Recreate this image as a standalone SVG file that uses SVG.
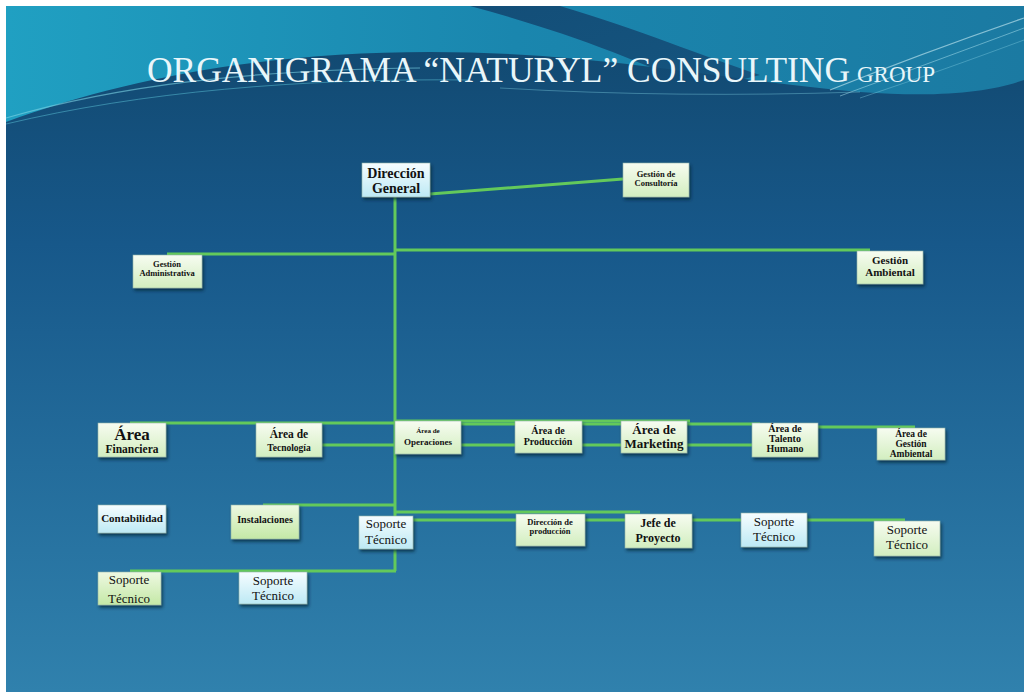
<svg xmlns="http://www.w3.org/2000/svg" width="1029" height="694" viewBox="0 0 1029 694">
<defs>
<linearGradient id="bgTop" x1="0" y1="0" x2="1" y2="0">
<stop offset="0" stop-color="#20a0c2"/>
<stop offset="0.5" stop-color="#1a86ae"/>
<stop offset="1" stop-color="#1b7aa2"/>
</linearGradient>
<linearGradient id="bgMain" x1="0" y1="0" x2="0" y2="1">
<stop offset="0" stop-color="#124a72"/>
<stop offset="0.3" stop-color="#17588a"/>
<stop offset="1" stop-color="#3081ad"/>
</linearGradient>
<linearGradient id="swoosh" x1="0" y1="0" x2="1" y2="1">
<stop offset="0" stop-color="#134e78"/>
<stop offset="1" stop-color="#15557f"/>
</linearGradient>
<linearGradient id="gCyan" x1="0" y1="0" x2="0" y2="1">
<stop offset="0" stop-color="#f6fdff"/>
<stop offset="1" stop-color="#bde9f4"/>
</linearGradient>
<linearGradient id="gGreen" x1="0" y1="0" x2="0" y2="1">
<stop offset="0" stop-color="#f7fcf1"/>
<stop offset="1" stop-color="#d2eebf"/>
</linearGradient>
<linearGradient id="gGreen2" x1="0" y1="0" x2="0" y2="1">
<stop offset="0" stop-color="#eef9e2"/>
<stop offset="1" stop-color="#c4e8a6"/>
</linearGradient>
<filter id="sh" x="-20%" y="-20%" width="150%" height="160%">
<feDropShadow dx="1.5" dy="2.5" stdDeviation="1.5" flood-color="#062034" flood-opacity="0.7"/>
</filter>
<style>
.box{stroke:#8fb3a8;stroke-width:0.6;filter:url(#sh)}
.c{fill:url(#gCyan)}
.g{fill:url(#gGreen)}
.g2{fill:url(#gGreen2)}
.t{font-weight:bold;fill:#111;text-anchor:middle}
.r{fill:#111;text-anchor:middle}
.ln{stroke:#63c95b;stroke-width:3;fill:none}
.title{fill:#e9f6fa}
</style>
</defs>

<!-- background -->
<rect x="0" y="0" width="1029" height="694" fill="#ffffff"/>
<rect x="6" y="6" width="1018" height="686" fill="url(#bgTop)"/>
<path d="M470,6 L560,6 C640,30 700,55 760,75 L700,90 C640,60 560,30 470,6 Z" fill="url(#swoosh)"/>
<path d="M6,122 C120,80 260,52 430,52 C600,52 720,80 860,92 C940,98 990,92 1024,80 L1024,692 L6,692 Z" fill="url(#bgMain)"/>
<path d="M6,118 C120,85 250,70 420,68" stroke="#7fd6e6" stroke-width="1.2" fill="none" opacity="0.6"/>
<path d="M6,124 C140,92 300,78 470,80" stroke="#5cc3d8" stroke-width="1" fill="none" opacity="0.5"/>
<path d="M1024,18 C960,40 900,62 830,90" stroke="#cdeef5" stroke-width="1.2" fill="none" opacity="0.6"/>
<path d="M1024,28 C965,50 905,72 840,96" stroke="#aee4ef" stroke-width="1" fill="none" opacity="0.5"/>
<path d="M1024,40 C970,60 920,78 860,98" stroke="#8fd8e8" stroke-width="0.8" fill="none" opacity="0.45"/>
<path d="M500,88 C620,95 740,96 860,92" stroke="#7fd0e0" stroke-width="1" fill="none" opacity="0.4"/>

<g font-family="'Liberation Serif', 'DejaVu Serif', serif">
<!-- title -->
<text class="title" x="147" y="82" font-size="36" textLength="703" lengthAdjust="spacingAndGlyphs">ORGANIGRAMA “NATURYL” CONSULTING</text>
<text class="title" x="857" y="82" font-size="23" textLength="78" lengthAdjust="spacingAndGlyphs">GROUP</text>

<!-- connectors -->
<g id="connectors">
<line class="ln" x1="430" y1="194" x2="623" y2="179"/>
<line class="ln" x1="395" y1="197" x2="395" y2="571"/>
<line class="ln" x1="395" y1="250" x2="870" y2="250"/>
<line class="ln" x1="167" y1="254" x2="395" y2="254"/>
<line class="ln" x1="130" y1="423" x2="395" y2="423"/>
<line class="ln" x1="395" y1="421" x2="690" y2="421"/>
<line class="ln" x1="461" y1="424" x2="760" y2="424"/>
<line class="ln" x1="818" y1="427" x2="915" y2="427"/>
<line class="ln" x1="322" y1="445" x2="752" y2="445"/>
<line class="ln" x1="263" y1="505" x2="395" y2="505"/>
<line class="ln" x1="395" y1="512" x2="640" y2="512"/>
<line class="ln" x1="413" y1="520" x2="905" y2="520"/>
<line class="ln" x1="130" y1="571" x2="396" y2="571"/>
</g>

<!-- nodes -->
<g id="n-direccion-general">
<rect class="box c" x="362" y="163" width="68" height="34"/>
<text class="t" x="396" y="178" font-size="14">Dirección</text>
<text class="t" x="396" y="193" font-size="14">General</text>
</g>
<g id="n-gestion-consultoria">
<rect class="box g" x="623" y="163" width="66" height="34"/>
<text class="t" x="656" y="177" font-size="8.5">Gestión de</text>
<text class="t" x="656" y="186" font-size="8.5">Consultoría</text>
</g>
<g id="n-gestion-administrativa">
<rect class="box g" x="133" y="255" width="69" height="33"/>
<text class="t" x="167" y="267" font-size="8.5">Gestión</text>
<text class="t" x="167" y="276" font-size="8.5">Administrativa</text>
</g>
<g id="n-gestion-ambiental">
<rect class="box g" x="857" y="251" width="66" height="33"/>
<text class="t" x="890" y="264" font-size="11">Gestión</text>
<text class="t" x="890" y="276" font-size="11">Ambiental</text>
</g>
<g id="n-area-financiera">
<rect class="box g" x="98" y="423" width="68" height="34"/>
<text class="t" x="132" y="440" font-size="17">Área</text>
<text class="t" x="132" y="453" font-size="11.5">Financiera</text>
</g>
<g id="n-area-tecnologia">
<rect class="box g" x="256" y="423" width="66" height="34"/>
<text class="t" x="289" y="438" font-size="11.5">Área de</text>
<text class="t" x="289" y="451" font-size="9.5">Tecnología</text>
</g>
<g id="n-area-operaciones">
<rect class="box g" x="395" y="421" width="66" height="33"/>
<text class="t" x="428" y="433" font-size="7">Área de</text>
<text class="t" x="428" y="445" font-size="9">Operaciones</text>
</g>
<g id="n-area-produccion">
<rect class="box g" x="515" y="421" width="67" height="32"/>
<text class="t" x="548" y="434" font-size="10">Área de</text>
<text class="t" x="548" y="445" font-size="10">Producción</text>
</g>
<g id="n-area-marketing">
<rect class="box g" x="621" y="421" width="66" height="32"/>
<text class="t" x="654" y="434" font-size="13">Área de</text>
<text class="t" x="654" y="448" font-size="13">Marketing</text>
</g>
<g id="n-area-talento">
<rect class="box g" x="752" y="423" width="66" height="34"/>
<text class="t" x="785" y="432" font-size="10">Área de</text>
<text class="t" x="785" y="442" font-size="10">Talento</text>
<text class="t" x="785" y="452" font-size="10">Humano</text>
</g>
<g id="n-area-gestion-ambiental">
<rect class="box g" x="877" y="428" width="68" height="32"/>
<text class="t" x="911" y="437" font-size="9.5">Área de</text>
<text class="t" x="911" y="447" font-size="9.5">Gestión</text>
<text class="t" x="911" y="457" font-size="9.5">Ambiental</text>
</g>
<g id="n-contabilidad">
<rect class="box c" x="98" y="505" width="68" height="28"/>
<text class="t" x="132" y="522" font-size="11">Contabilidad</text>
</g>
<g id="n-instalaciones">
<rect class="box g2" x="231" y="505" width="68" height="34"/>
<text class="t" x="265" y="523" font-size="10">Instalaciones</text>
</g>
<g id="n-soporte-centro">
<rect class="box c" x="359" y="516" width="54" height="33"/>
<text class="r" x="386" y="528" font-size="13">Soporte</text>
<text class="r" x="386" y="544" font-size="13">Técnico</text>
</g>
<g id="n-direccion-produccion">
<rect class="box g" x="516" y="514" width="69" height="32"/>
<text class="t" x="550" y="525" font-size="8.5">Dirección de</text>
<text class="t" x="550" y="534" font-size="8.5">producción</text>
</g>
<g id="n-jefe-proyecto">
<rect class="box g" x="625" y="514" width="67" height="34"/>
<text class="t" x="658" y="527" font-size="12">Jefe de</text>
<text class="t" x="658" y="542" font-size="12">Proyecto</text>
</g>
<g id="n-soporte-3">
<rect class="box c" x="741" y="513" width="66" height="34"/>
<text class="r" x="774" y="526" font-size="13">Soporte</text>
<text class="r" x="774" y="541" font-size="13">Técnico</text>
</g>
<g id="n-soporte-4">
<rect class="box g" x="874" y="521" width="66" height="35"/>
<text class="r" x="907" y="534" font-size="13">Soporte</text>
<text class="r" x="907" y="549" font-size="13">Técnico</text>
</g>
<g id="n-soporte-1">
<rect class="box g2" x="98" y="572" width="63" height="33"/>
<text class="r" x="129" y="584" font-size="13">Soporte</text>
<text class="r" x="129" y="603" font-size="13">Técnico</text>
</g>
<g id="n-soporte-2">
<rect class="box c" x="239" y="572" width="68" height="32"/>
<text class="r" x="273" y="585" font-size="13">Soporte</text>
<text class="r" x="273" y="600" font-size="13">Técnico</text>
</g>
</g>
</svg>
